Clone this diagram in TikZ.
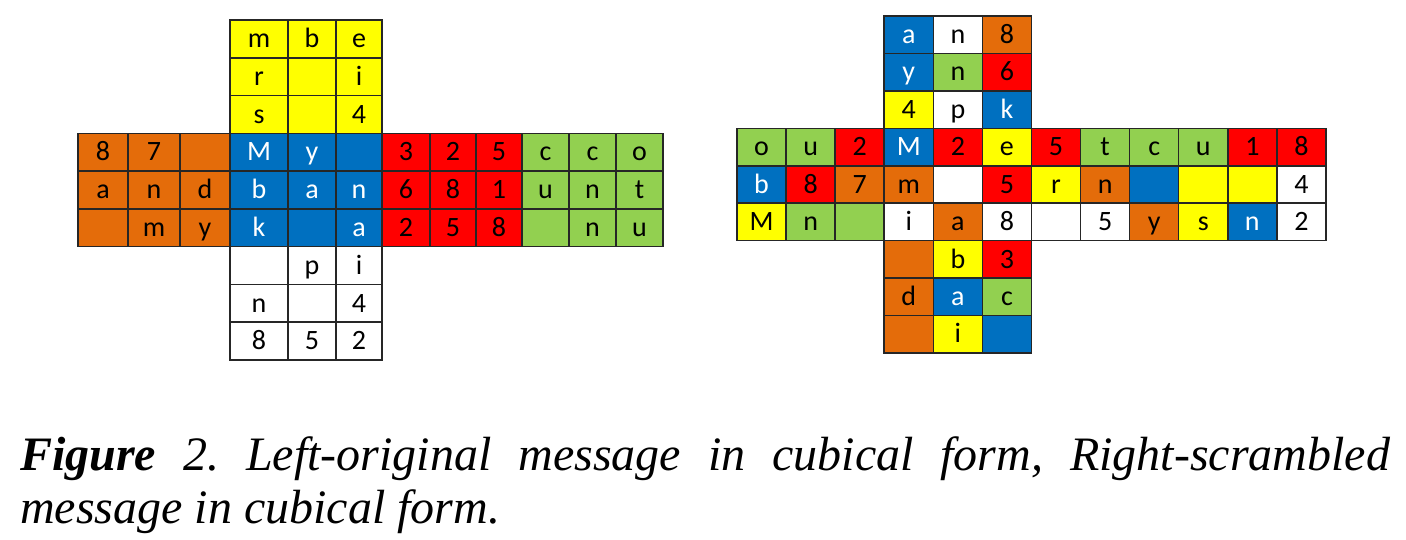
\documentclass[tikz,border=0pt]{standalone}
\usepackage{fontspec}
\setmainfont{Liberation Serif}
\newfontfamily\cellfont{Carlito}
\definecolor{cOr}{HTML}{E46C0A}
\definecolor{cYe}{HTML}{FFFF00}
\definecolor{cBl}{HTML}{0070C0}
\definecolor{cRe}{HTML}{FF0000}
\definecolor{cGr}{HTML}{92D050}
\definecolor{cWh}{HTML}{FFFFFF}
\definecolor{gridline}{HTML}{262626}
\tikzset{
  cell/.style={draw=gridline, line width=1.5pt, inner sep=0pt,
    text height=17.5pt, text depth=0pt,
    font=\cellfont\fontsize{28}{28}\selectfont, anchor=center},
  Or/.style={fill=cOr},
  Ye/.style={fill=cYe},
  Bl/.style={fill=cBl, text=white},
  Re/.style={fill=cRe},
  Gr/.style={fill=cGr},
  Wh/.style={fill=cWh},
  caption/.style={inner sep=0pt, anchor=base west, font=\fontsize{48}{53}\selectfont\itshape\frenchspacing}
}
\begin{document}
\begin{tikzpicture}[x=1pt,y=-1pt]
\useasboundingbox (0,0) rectangle (1406,540);
% Left cube (original)
\foreach \r/\c/\s/\t in {
 0/3/Ye/m, 0/4/Ye/b, 0/5/Ye/e,
 1/3/Ye/r, 1/4/Ye/{}, 1/5/Ye/i,
 2/3/Ye/s, 2/4/Ye/{}, 2/5/Ye/4,
 3/0/Or/8, 3/1/Or/7, 3/2/Or/{}, 3/3/Bl/M, 3/4/Bl/y, 3/5/Bl/{}, 3/6/Re/3, 3/7/Re/2, 3/8/Re/5, 3/9/Gr/c, 3/10/Gr/c, 3/11/Gr/o,
 4/0/Or/a, 4/1/Or/n, 4/2/Or/d, 4/3/Bl/b, 4/4/Bl/a, 4/5/Bl/n, 4/6/Re/6, 4/7/Re/8, 4/8/Re/1, 4/9/Gr/u, 4/10/Gr/n, 4/11/Gr/t,
 5/0/Or/{}, 5/1/Or/m, 5/2/Or/y, 5/3/Bl/k, 5/4/Bl/{}, 5/5/Bl/a, 5/6/Re/2, 5/7/Re/5, 5/8/Re/8, 5/9/Gr/{}, 5/10/Gr/n, 5/11/Gr/u,
 6/3/Wh/{}, 6/4/Wh/p, 6/5/Wh/i,
 7/3/Wh/n, 7/4/Wh/{}, 7/5/Wh/4,
 8/3/Wh/8, 8/4/Wh/5, 8/5/Wh/2}
 {
 \pgfmathsetmacro\xa{{78,128,180,230,288,336,382,430,476,522,569,616,663}[\c]}
 \pgfmathsetmacro\xb{{78,128,180,230,288,336,382,430,476,522,569,616,663}[\c+1]}
 \pgfmathsetmacro\cellw{\xb-\xa}
 \node[cell,\s, minimum width=\cellw pt, minimum height=37.78pt] (L\r-\c) at ({(\xa+\xb)/2},{20+(\r+0.5)*37.78}) {\t};
 }
% Right cube (scrambled)
\foreach \r/\c/\s/\t in {
 0/3/Bl/a, 0/4/Wh/n, 0/5/Or/8,
 1/3/Bl/y, 1/4/Gr/n, 1/5/Re/6,
 2/3/Ye/4, 2/4/Wh/p, 2/5/Bl/k,
 3/0/Gr/o, 3/1/Gr/u, 3/2/Re/2, 3/3/Bl/M, 3/4/Re/2, 3/5/Ye/e, 3/6/Re/5, 3/7/Gr/t, 3/8/Gr/c, 3/9/Gr/u, 3/10/Re/1, 3/11/Re/8,
 4/0/Bl/b, 4/1/Re/8, 4/2/Or/7, 4/3/Or/m, 4/4/Wh/{}, 4/5/Re/5, 4/6/Ye/r, 4/7/Or/n, 4/8/Bl/{}, 4/9/Ye/{}, 4/10/Ye/{}, 4/11/Wh/4,
 5/0/Ye/M, 5/1/Gr/n, 5/2/Gr/{}, 5/3/Wh/i, 5/4/Or/a, 5/5/Wh/8, 5/6/Wh/{}, 5/7/Wh/5, 5/8/Or/y, 5/9/Ye/s, 5/10/Bl/n, 5/11/Wh/2,
 6/3/Or/{}, 6/4/Ye/b, 6/5/Re/3,
 7/3/Or/d, 7/4/Bl/a, 7/5/Gr/c,
 8/3/Or/{}, 8/4/Ye/i, 8/5/Bl/{}}
 \node[cell,\s, minimum width=49.08pt, minimum height=37.44pt] (R\r-\c) at ({737+(\c+0.5)*49.08},{16+(\r+0.5)*37.44}) {\t};
% Caption
\node[caption] (cap1) at (20,470) {\makebox[1370pt][s]{\textbf{Figure} 2. Left-original message in cubical form, Right-scrambled}};
\node[caption] (cap2) at (20,523) {message in cubical form.};
\end{tikzpicture}
\end{document}
